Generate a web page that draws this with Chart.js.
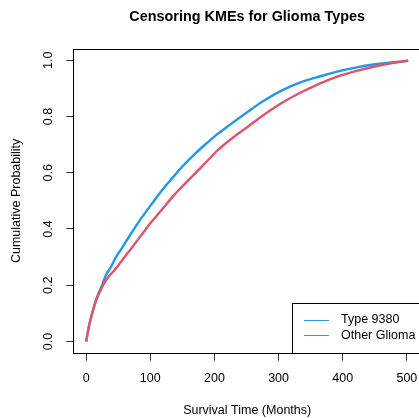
<!DOCTYPE html>
<html>
<head>
<meta charset="utf-8">
<script src="https://cdn.jsdelivr.net/npm/chart.js@4.4.1/dist/chart.umd.min.js"></script>
<style>
  html, body { margin: 0; padding: 0; background: #fff; overflow: hidden; width: 419px; height: 418px; }
  #wrap { width: 422px; height: 418px; }
</style>
</head>
<body>
<div id="wrap"><canvas id="c" width="422" height="418"></canvas></div>
<script>
const chartTitle = "Censoring KMEs for Glioma Types";
const xTitle = "Survival Time (Months)";
const yTitle = "Cumulative Probability";
const seriesNames = ["Type 9380", "Other Glioma"];

const xTicks = [0, 100, 200, 300, 400, 500];
const yTicks = [0.0, 0.2, 0.4, 0.6, 0.8, 1.0];

const blueTimes = [0, 1, 5, 10, 15, 20, 25, 30, 38, 46, 54, 64, 74, 85, 100, 113, 125, 137, 150, 170, 188, 206, 225, 251, 275, 303, 330, 365, 396, 420, 448, 475, 502];
const blueProb  = [0, 0.012, 0.06, 0.105, 0.145, 0.175, 0.2, 0.232, 0.262, 0.298, 0.326, 0.362, 0.398, 0.435, 0.482, 0.522, 0.556, 0.588, 0.622, 0.668, 0.705, 0.74, 0.772, 0.815, 0.853, 0.89, 0.918, 0.943, 0.962, 0.974, 0.985, 0.992, 0.998];

const redTimes = [0, 1, 5, 10, 15, 20, 30, 45, 60, 75, 90, 100, 115, 135, 150, 170, 188, 206, 225, 251, 275, 303, 330, 365, 396, 420, 448, 475, 502];
const redProb  = [0, 0.012, 0.06, 0.105, 0.142, 0.17, 0.215, 0.256, 0.30, 0.345, 0.39, 0.42, 0.46, 0.515, 0.552, 0.598, 0.64, 0.682, 0.718, 0.762, 0.803, 0.845, 0.88, 0.918, 0.945, 0.961, 0.977, 0.989, 0.998];

const blueColor = "#2297E6";
const redColor = "#DF536B";

function toPoints(ts, ps) { return ts.map((t, i) => ({ x: t, y: ps[i] })); }

const FONT = "Liberation Sans, Arial, sans-serif";

const rPlugin = {
  id: 'rstyle',
  afterDraw(chart) {
    const ctx = chart.ctx;
    const a = chart.chartArea;
    ctx.save();
    // plot box
    ctx.strokeStyle = '#000';
    ctx.lineWidth = 1;
    ctx.strokeRect(Math.round(a.left) + 0.5, Math.round(a.top) + 0.5, Math.round(a.right - a.left), Math.round(a.bottom - a.top));
    // y tick labels (rotated, R style)
    const ys = chart.scales.y;
    ctx.fillStyle = '#000';
    ctx.font = '12.5px ' + FONT;
    ctx.textAlign = 'center';
    ctx.textBaseline = 'middle';
    ys.ticks.forEach(t => {
      const py = ys.getPixelForValue(t.value);
      ctx.save();
      ctx.translate(a.left - 25, py);
      ctx.rotate(-Math.PI / 2);
      ctx.fillText(Number(t.value).toFixed(1), 0, 0);
      ctx.restore();
    });
    // title
    ctx.font = 'bold 14.4px ' + FONT;
    ctx.fillText(chartTitle, (a.left + a.right) / 2, 17);
    // legend (bottom right)
    const lw = 129.5, lh = 49.5;
    const lx = a.right - lw, ly = a.bottom - lh;
    ctx.fillStyle = '#fff';
    ctx.fillRect(lx, ly, lw, lh);
    ctx.strokeStyle = '#000';
    ctx.strokeRect(Math.round(lx) + 0.5, Math.round(ly) + 0.5, Math.round(lw), Math.round(lh));
    ctx.font = '12.5px ' + FONT;
    ctx.textAlign = 'left';
    ctx.textBaseline = 'middle';
    chart.data.datasets.forEach((ds, i) => {
      const yy = ly + 16.5 + i * 15.7;
      ctx.strokeStyle = ds.borderColor;
      ctx.lineWidth = 1;
      ctx.beginPath();
      ctx.moveTo(lx + 12.5, Math.round(yy) + 0.5);
      ctx.lineTo(lx + 37.5, Math.round(yy) + 0.5);
      ctx.stroke();
      ctx.fillStyle = '#000';
      ctx.fillText(ds.label, lx + 49.5, yy);
    });
    ctx.restore();
  }
};

new Chart(document.getElementById('c'), {
  type: 'line',
  data: {
    datasets: [
      { label: seriesNames[0], data: toPoints(blueTimes, blueProb), borderColor: blueColor, backgroundColor: blueColor,
        borderWidth: 2.4, pointRadius: 0, cubicInterpolationMode: 'monotone', fill: false, order: 2 },
      { label: seriesNames[1], data: toPoints(redTimes, redProb), borderColor: redColor, backgroundColor: redColor,
        borderWidth: 2.4, pointRadius: 0, cubicInterpolationMode: 'monotone', fill: false, order: 1 }
    ]
  },
  options: {
    responsive: false,
    animation: false,
    devicePixelRatio: 1,
    layout: { padding: { top: 49, left: 0, right: 1, bottom: 0 } },
    plugins: { legend: { display: false }, title: { display: false }, tooltip: { enabled: false } },
    scales: {
      x: {
        type: 'linear', min: -20, max: 522,
        afterFit(s) { s.height = 65.3; s.paddingLeft = 0; s.paddingRight = 0; },
        afterBuildTicks(s) { s.ticks = xTicks.map(v => ({ value: v })); },
        grid: { drawOnChartArea: false, drawTicks: true, tickLength: 8, color: '#333', lineWidth: 1 },
        border: { display: false },
        ticks: { color: '#000', font: { family: FONT, size: 12.5 }, padding: 10, maxRotation: 0, autoSkip: false,
                 callback: v => String(v) },
        title: { display: true, text: xTitle, color: '#000', font: { family: FONT, size: 12.5 }, padding: { top: 0, bottom: 0 } }
      },
      y: {
        type: 'linear', min: -0.04, max: 1.04,
        afterFit(s) { s.width = 73.3; s.paddingTop = 0; s.paddingBottom = 0; },
        afterBuildTicks(s) { s.ticks = yTicks.map(v => ({ value: v })); },
        grid: { drawOnChartArea: false, drawTicks: true, tickLength: 7, color: '#333', lineWidth: 1 },
        border: { display: false },
        ticks: { display: false },
        title: { display: true, text: yTitle, color: '#000', font: { family: FONT, size: 12.5 }, padding: { top: 9.5, bottom: 0 } }
      }
    }
  },
  plugins: [rPlugin]
});
</script>
</body>
</html>
